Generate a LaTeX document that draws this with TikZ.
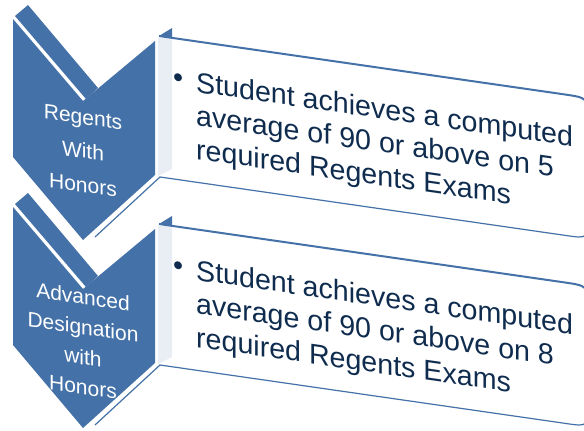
\documentclass[tikz,border=0pt]{standalone}
\usepackage{fontspec}
\setmainfont{Liberation Sans}
\definecolor{chevblue}{HTML}{4472A8}
\definecolor{sidegray}{HTML}{E9EEF4}
\definecolor{textnavy}{HTML}{0F2C4F}

\begin{document}
\begin{tikzpicture}[x=1pt, y=-1pt,
		chevface/.style={fill=chevblue},
		boxside/.style={fill=sidegray},
		boxtop/.style={draw=chevblue, line width=2pt},
		boxbottom/.style={draw=chevblue, line width=1.2pt},
		chevlabel/.style={text=white, align=center, inner sep=0pt, yslant=-0.144, font=\fontsize{21}{34}\selectfont},
		boxtext/.style={text=textnavy, inner sep=0pt, anchor=base west, yslant=-0.144, font=\fontsize{28.6}{33.5}\selectfont},
	]
		\useasboundingbox (0,0) rectangle (584,431);
		\clip (0,0) rectangle (584,431);
		
		% first chevron
		\fill[chevface] (15,16) -- (28,5) -- (98,88) -- (86,99) -- cycle;
		\fill[chevface] (13,19) -- (83,101) -- (155,41) -- (155,175) -- (83,240) -- (13,157) -- cycle;
		
		% second chevron
		\fill[chevface] (15,204) -- (28,193) -- (98,276) -- (86,287) -- cycle;
		\fill[chevface] (13,207) -- (83,289) -- (155,229) -- (155,363) -- (83,428) -- (13,345) -- cycle;
		
		% first box
		\fill[boxside] (158,38) -- (172,37) -- (172,169) -- (158,176) -- cycle;
		\fill[chevface] (159,36) -- (172,28) -- (172,37.9) -- cycle;
		\draw[boxtop] (159,36) -- (563,94.2) .. controls (588,97.8) .. (588,120);
		\draw[boxbottom] (95,237) -- (160,177) -- (566,235.5) .. controls (588,238.7) .. (588,215);
		
		% second box
		\fill[boxside] (158,226) -- (172,225) -- (172,357) -- (158,364) -- cycle;
		\fill[chevface] (159,224) -- (172,216) -- (172,225.9) -- cycle;
		\draw[boxtop] (159,224) -- (563,282.2) .. controls (588,285.8) .. (588,308);
		\draw[boxbottom] (95,425) -- (160,365) -- (566,423.5) .. controls (588,426.7) .. (588,403);
		
		\node[chevlabel] (lab1) at (83,151) {Regents\\With\\Honors};
		\node[chevlabel, font=\fontsize{21}{30}\selectfont] (lab2) at (83,342) {Advanced\\Designation\\with\\Honors};
		
		\node[boxtext] (desc1) at (173,88.7) {\begin{tabular}[t]{@{}l@{\hspace{13pt}}l@{}}
			\raisebox{2pt}{\textbullet} & Student achieves a computed\\
			& average of 90 or above on 5\\
			& required Regents Exams
		\end{tabular}};
		\node[boxtext] (desc2) at (173,276.7) {\begin{tabular}[t]{@{}l@{\hspace{13pt}}l@{}}
			\raisebox{2pt}{\textbullet} & Student achieves a computed\\
			& average of 90 or above on 8\\
			& required Regents Exams
		\end{tabular}};
	\end{tikzpicture}
\end{document}
